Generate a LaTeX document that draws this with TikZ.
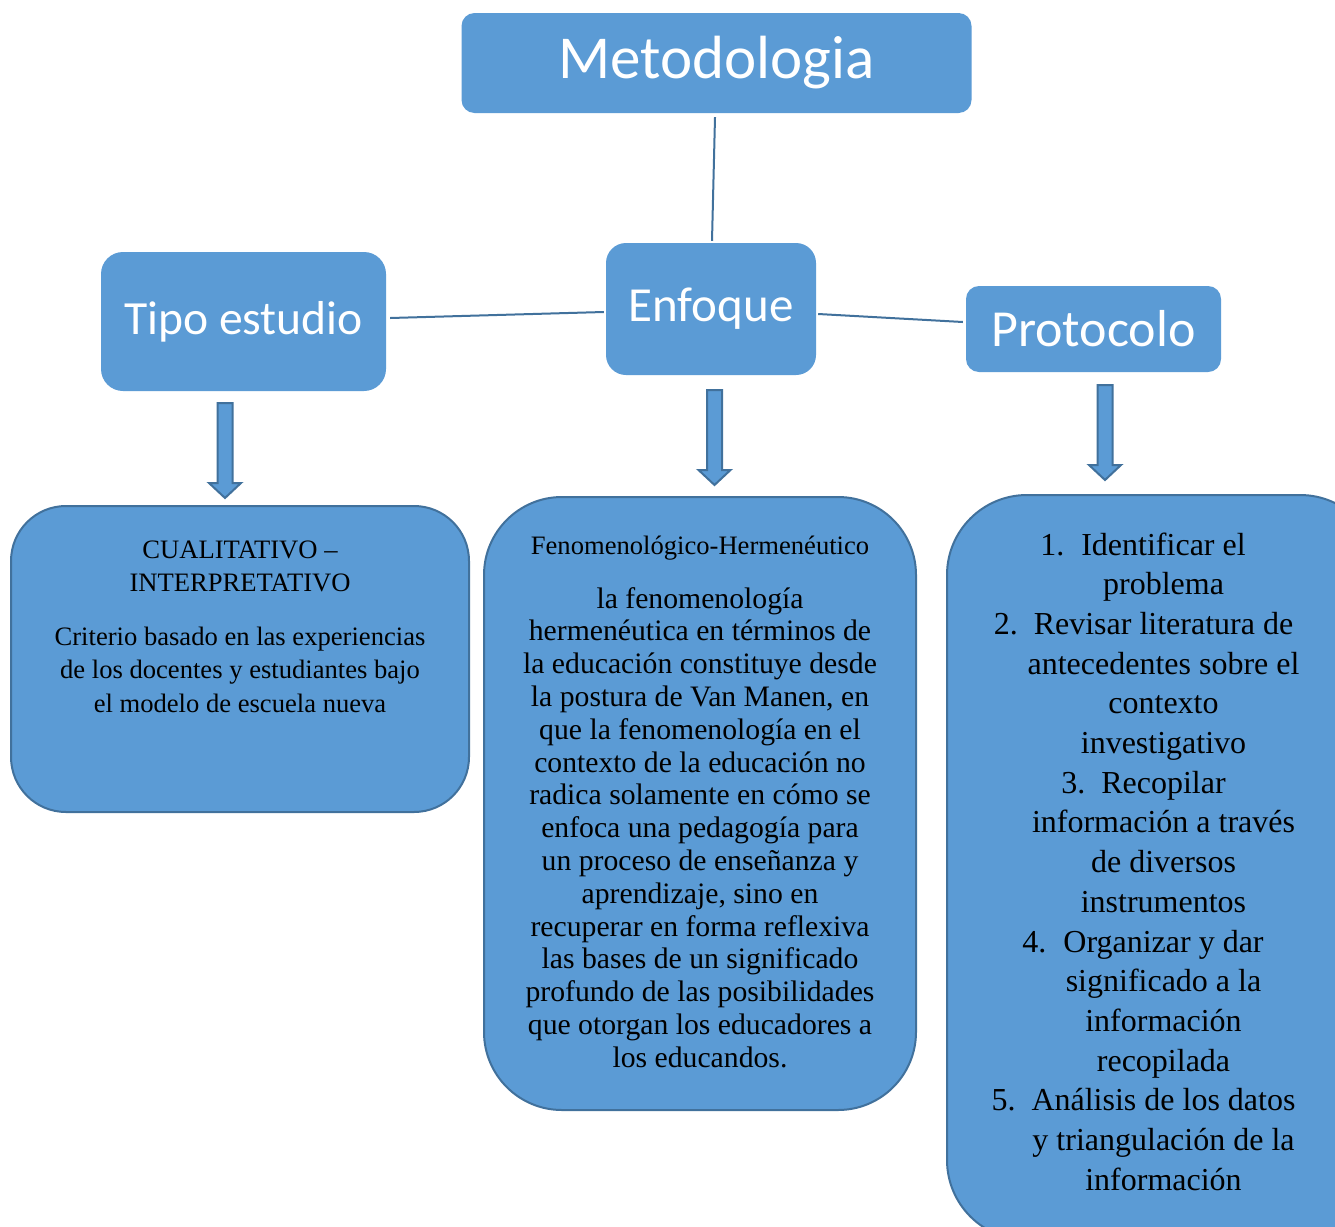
\documentclass[tikz,border=0pt]{standalone}
\usepackage{fontspec}
\setmainfont{Liberation Serif}
\newfontfamily\calfont{Carlito}
\definecolor{boxblue}{HTML}{5B9BD5}
\definecolor{edgeblue}{HTML}{41719C}
\begin{document}
\begin{tikzpicture}[x=1pt,y=-1pt,
  topbox/.style={fill=boxblue, draw=none, text=white, inner sep=0pt, font=\calfont},
  lowbox/.style={fill=boxblue, draw=edgeblue, line width=2pt, inner sep=0pt},
  conn/.style={draw=edgeblue, line width=2pt},
  blockarr/.style={fill=boxblue, draw=edgeblue, line width=2pt, line join=miter},
  txt/.style={anchor=base, inner sep=0pt, text=black},
  downarrow/.pic={\draw[blockarr] (-7.5,0) -- (7.5,0) -- (7.5,80) -- (16,80) -- (0,95) -- (-16,80) -- (-7.5,80) -- cycle;}
]
\useasboundingbox (0,0) rectangle (1335,1226);
\clip (0,0) rectangle (1335,1226);
\fill[white] (0,0) rectangle (1335,1226);

% top boxes
\node[topbox, minimum width=510pt, minimum height=100pt, rounded corners=13pt] (met) at (716.5,63) {\fontsize{61pt}{72pt}\selectfont\raisebox{-3pt}{Metodologia}};
\node[topbox, minimum width=285pt, minimum height=139pt, rounded corners=22pt] (tipo) at (243.5,321.5) {\fontsize{47.6pt}{57pt}\selectfont\raisebox{-2pt}{Tipo estudio}};
\node[topbox, minimum width=210pt, minimum height=132pt, rounded corners=20pt] (enf) at (711,309) {\fontsize{49pt}{59pt}\selectfont Enfoque};
\node[topbox, minimum width=255pt, minimum height=86pt, rounded corners=13pt] (prot) at (1093.5,329) {\fontsize{52pt}{62pt}\selectfont Protocolo};

% connectors
\draw[conn] ([xshift=-1.5pt,yshift=-4pt]met.south) -- ([xshift=1pt,yshift=2pt]enf.north);
\draw[conn] ([xshift=4pt,yshift=3.5pt]tipo.east) -- ([xshift=-2pt,yshift=-3pt]enf.west);
\draw[conn] ([xshift=2pt,yshift=-5pt]enf.east) -- ([xshift=-3pt,yshift=7pt]prot.west);

% block arrows
\pic (ar1) at (225,403) {downarrow};
\pic (ar2) at (714.5,390) {downarrow};
\pic (ar3) at (1105,385) {downarrow};

% lower boxes
\node[lowbox, minimum width=458pt, minimum height=306pt, rounded corners=55pt] (b1) at (240,659) {};
\node[lowbox, minimum width=432pt, minimum height=613pt, rounded corners=78pt] (b2) at (700,803.5) {};
\node[lowbox, minimum width=433pt, minimum height=745pt, rounded corners=80pt] (b3) at (1163.5,867.5) {};

% box 1 text
\begin{scope}[font=\fontsize{26.6pt}{32pt}\selectfont]
\node[txt] (b1h1) at (240,558) {CUALITATIVO –};
\node[txt] (b1h2) at (240,591) {INTERPRETATIVO};
\node[txt] (b1t1) at (240,645) {Criterio basado en las experiencias};
\node[txt] (b1t2) at (240,678.5) {de los docentes y estudiantes bajo};
\node[txt] (b1t3) at (240,712) {el modelo de escuela nueva};
\node[txt] (b2h) at (700,554) {Fenomenológico-Hermenéutico};
\end{scope}

% box 2 text
\begin{scope}[font=\fontsize{29.7pt}{33pt}\selectfont]
\foreach \t [count=\i, evaluate=\i as \yy using 608+(\i-1)*32.8] in {
  {la fenomenología},
  {hermenéutica en términos de},
  {la educación constituye desde},
  {la postura de Van Manen, en},
  {que la fenomenología en el},
  {contexto de la educación no},
  {radica solamente en cómo se},
  {enfoca una pedagogía para},
  {un proceso de enseñanza y},
  {aprendizaje, sino en},
  {recuperar en forma reflexiva},
  {las bases de un significado},
  {profundo de las posibilidades},
  {que otorgan los educadores a},
  {los educandos.}}
  \node[txt] (b2t\i) at (700,\yy) {\t};
\end{scope}

% box 3 text
\begin{scope}[font=\fontsize{32pt}{40pt}\selectfont]
\foreach \t [count=\i, evaluate=\i as \yy using 555+(\i-1)*39.7] in {
  {\llap{1.\hspace{17pt}}Identificar el},
  {problema},
  {\llap{2.\hspace{16pt}}Revisar literatura de},
  {antecedentes sobre el},
  {contexto},
  {investigativo},
  {\llap{3.\hspace{16pt}}Recopilar},
  {información a través},
  {de diversos},
  {instrumentos},
  {\llap{4.\hspace{17pt}}Organizar y dar},
  {significado a la},
  {información},
  {recopilada},
  {\llap{5.\hspace{16pt}}Análisis de los datos},
  {y triangulación de la},
  {información}}
  \node[txt] (b3t\i) at (1163.5,\yy) {\t};
\end{scope}
\end{tikzpicture}
\end{document}
